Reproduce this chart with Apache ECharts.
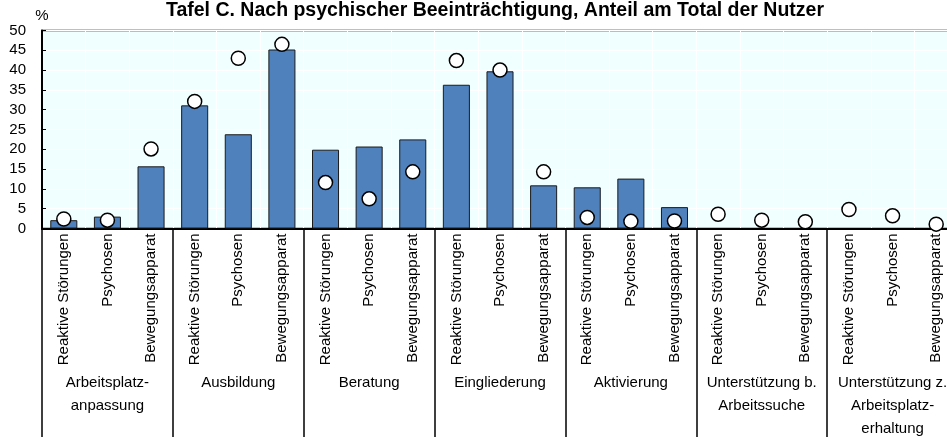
<!DOCTYPE html>
<html>
<head>
<meta charset="utf-8">
<script src="https://cdn.jsdelivr.net/npm/echarts@6/dist/echarts.min.js"></script>
<style>
html,body{margin:0;padding:0;background:#fff;}
#chart{width:947px;height:437px;}
</style>
</head>
<body>
<div id="chart"></div>
<script>
const titleText = 'Tafel C. Nach psychischer Beeinträchtigung, Anteil am Total der Nutzer';
const subCategories = ['Reaktive Störungen', 'Psychosen', 'Bewegungsapparat'];
const groups = ['Arbeitsplatz-\nanpassung', 'Ausbildung', 'Beratung', 'Eingliederung', 'Aktivierung', 'Unterstützung b.\nArbeitssuche', 'Unterstützung z.\nArbeitsplatz-\nerhaltung'];
const barValues = [2.1, 3.0, 15.7, 31.1, 23.8, 45.2, 19.9, 20.7, 22.5, 36.3, 39.7, 10.9, 10.4, 12.6, 5.4, null, null, null, null, null, null];
const circleValues = [2.4, 2.1, 20.1, 32.1, 43.0, 46.5, 11.6, 7.5, 14.3, 42.4, 40.0, 14.3, 2.8, 1.8, 1.9, 3.6, 2.1, 1.7, 4.8, 3.2, 1.1];
const yTicks = {min: 0, max: 50, step: 5};

const categories = [];
groups.forEach(() => subCategories.forEach(s => categories.push(s)));

const FONT = "'Liberation Sans', Arial, sans-serif";
const chart = echarts.init(document.getElementById('chart'), null, {renderer: 'canvas'});
chart.setOption({
  animation: false,
  backgroundColor: '#ffffff',
  graphic: [{
    type: 'text', x: 495, y: 11,
    style: {text: titleText, font: 'bold 19.5px ' + FONT, fill: '#000', textAlign: 'center', textVerticalAlign: 'middle'}
  }],
  grid: {left: 42, top: 30.5, width: 916, height: 198, show: true, backgroundColor: '#F0FFFF', borderColor: '#000', borderWidth: 1.5, containLabel: false, outerBoundsMode: 'none'},
  xAxis: [{
    type: 'category', data: categories, position: 'bottom',
    axisLine: {show: true, lineStyle: {color: '#000', width: 2}},
    axisTick: {show: false},
    splitLine: {show: true, lineStyle: {color: '#ffffff', width: 1}},
    axisLabel: {rotate: 90, interval: 0, fontSize: 15, fontFamily: FONT, color: '#000', margin: 5}
  }, {
    type: 'category', data: groups, position: 'bottom',
    axisLine: {show: false},
    axisTick: {show: true, length: 215, lineStyle: {color: '#000', width: 1.5}},
    splitLine: {show: false},
    axisLabel: {interval: 0, fontSize: 15, fontFamily: FONT, color: '#000', margin: 143, lineHeight: 23}
  }],
  yAxis: {
    type: 'value', min: yTicks.min, max: yTicks.max, interval: yTicks.step,
    name: '%', nameLocation: 'end', nameGap: 7,
    nameTextStyle: {fontSize: 15, fontFamily: FONT, color: '#000', align: 'center'},
    axisLine: {show: true, lineStyle: {color: '#000', width: 2}},
    axisTick: {show: true, inside: true, length: 4, lineStyle: {color: '#000'}},
    axisLabel: {fontSize: 15, fontFamily: FONT, color: '#000', margin: 16},
    splitLine: {show: true, lineStyle: {color: '#ffffff', width: 1}}
  },
  series: [{
    type: 'bar', data: barValues, xAxisIndex: 0, barWidth: '62%',
    itemStyle: {color: '#4F81BD', borderColor: '#1a1a1a', borderWidth: 1}
  }, {
    type: 'scatter', data: circleValues, xAxisIndex: 0, z: 5,
    symbol: 'circle', symbolSize: 14,
    itemStyle: {color: '#ffffff', borderColor: '#000', borderWidth: 1.5, opacity: 1}
  }]
});
</script>
</body>
</html>
